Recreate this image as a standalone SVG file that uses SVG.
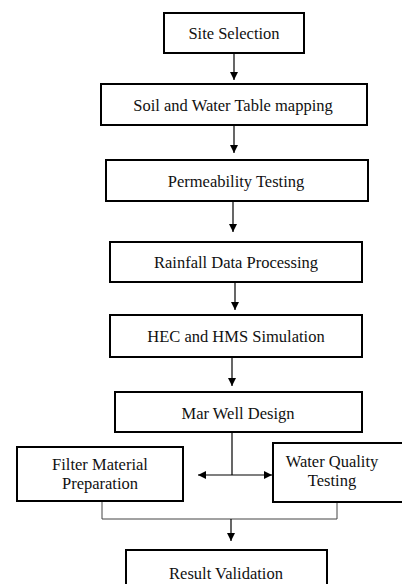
<svg xmlns="http://www.w3.org/2000/svg" width="402" height="584" viewBox="0 0 402 584">
<defs>
<marker id="ah" viewBox="0 0 10 10" refX="10" refY="5" markerWidth="8" markerHeight="8" markerUnits="userSpaceOnUse" orient="auto-start-reverse">
<path d="M0,0 L10,5 L0,10 Z" fill="#000"/>
</marker>
<style>
.box{fill:#fff;stroke:#000;stroke-width:2}
.t{font-size:16.5px;fill:#111;text-anchor:middle}
.c{stroke:#000;stroke-width:1.2;fill:none}
.g{stroke:#444;stroke-width:1;fill:none}
</style>
</defs>
<rect width="402" height="584" fill="#fff"/>
<g id="connectors">
<line class="c" x1="234" y1="53" x2="234" y2="80" marker-end="url(#ah)"/>
<line class="c" x1="234" y1="125" x2="234" y2="153" marker-end="url(#ah)"/>
<line class="c" x1="233" y1="201" x2="233" y2="232" marker-end="url(#ah)"/>
<line class="c" x1="235" y1="282" x2="235" y2="310" marker-end="url(#ah)"/>
<line class="c" x1="232" y1="357" x2="232" y2="386" marker-end="url(#ah)"/>
<line class="c" x1="232" y1="432" x2="232" y2="475"/>
<line class="c" x1="198" y1="475" x2="272" y2="475" marker-start="url(#ah)" marker-end="url(#ah)"/>
<path class="g" d="M102,501 V519 H337 V502"/>
<line class="c" x1="231" y1="519" x2="231" y2="541" marker-end="url(#ah)"/>
</g>
<g font-family="Liberation Serif, DejaVu Serif, serif">
<g id="site-selection">
<rect class="box" x="164" y="13" width="140" height="40"/>
<text class="t" x="234" y="39" font-family="Liberation Serif, serif">Site Selection</text>
</g>
<g id="soil-water-table">
<rect class="box" x="101" y="84" width="266" height="41"/>
<text class="t" x="233" y="111" font-family="Liberation Serif, serif">Soil and Water Table mapping</text>
</g>
<g id="permeability">
<rect class="box" x="106" y="160" width="262" height="41"/>
<text class="t" x="236" y="187" font-family="Liberation Serif, serif">Permeability Testing</text>
</g>
<g id="rainfall">
<rect class="box" x="110" y="242" width="252" height="40"/>
<text class="t" x="236" y="268" font-family="Liberation Serif, serif">Rainfall Data Processing</text>
</g>
<g id="hec-hms">
<rect class="box" x="110" y="315" width="252" height="42"/>
<text class="t" x="236" y="342" font-family="Liberation Serif, serif">HEC and HMS Simulation</text>
</g>
<g id="mar-well">
<rect class="box" x="115" y="392" width="247" height="40"/>
<text class="t" x="238" y="419" font-family="Liberation Serif, serif">Mar Well Design</text>
</g>
<g id="filter-material">
<rect class="box" x="17" y="447" width="166" height="54"/>
<text class="t" x="100" y="470" font-family="Liberation Serif, serif">Filter Material</text>
<text class="t" x="100" y="489" font-family="Liberation Serif, serif">Preparation</text>
</g>
<g id="water-quality">
<rect class="box" x="273" y="443" width="140" height="59"/>
<text class="t" x="332" y="467" font-family="Liberation Serif, serif">Water Quality</text>
<text class="t" x="332" y="486" font-family="Liberation Serif, serif">Testing</text>
</g>
<g id="result-validation">
<rect class="box" x="126" y="550" width="201" height="45"/>
<text class="t" x="226" y="579" font-family="Liberation Serif, serif">Result Validation</text>
</g>
</g>
</svg>
